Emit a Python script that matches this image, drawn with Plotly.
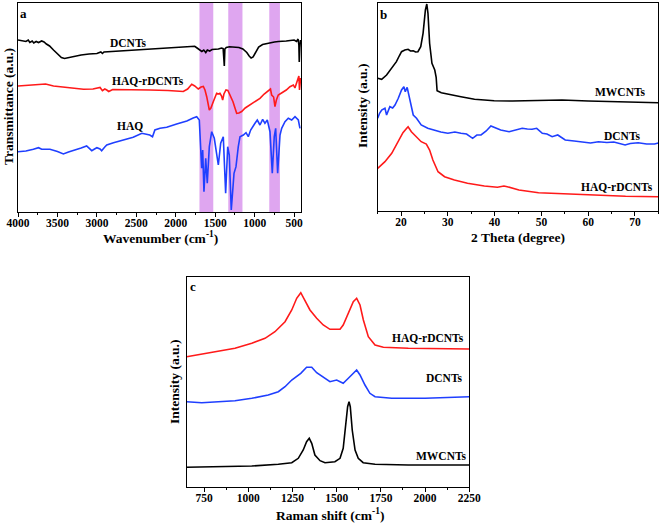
import plotly.graph_objects as go

# ---------------- Panel a : FTIR ----------------
a_dcnt_wn = [4000,3950,3900,3870,3850,3820,3800,3770,3740,3700,3670,3640,3600,3550,3500,3450,3410,3350,3300,3200,3100,3000,2950,2930,2910,2800,2700,2600,2500,2400,2300,2200,2100,2000,1900,1800,1760,1730,1700,1670,1645,1620,1600,1570,1540,1500,1460,1420,1400,1390,1385,1378,1360,1320,1250,1200,1150,1100,1070,1045,1020,1000,975,950,900,850,800,750,700,650,600,550,500,470,450,440,435,428,420]
a_dcnt_t = [172,171.5,170.5,172,169.5,171,169,170.5,169.5,171,170,168,166,162,158,154.5,153.5,154.5,155.5,157,158,158.5,160,158.5,160,160.5,161,161.5,162,162.5,163,163.5,164,164.3,164.7,165.3,165.7,164,162.5,160.5,162,159.5,162,161,162.5,162.5,163,164,163.5,152,146,163,164.5,165.3,165,164.5,163,159.5,156,154,155,158,162,165,167.5,168.5,169.5,170,170.5,170.5,171,171.5,172,170.5,173,167,150,164,172]

a_rd_wn = [4000,3900,3800,3700,3650,3550,3450,3380,3300,3170,3050,3000,2960,2930,2900,2875,2850,2800,2700,2500,2330,2100,1950,1905,1850,1798,1760,1715,1680,1651,1630,1608,1575,1555,1525,1500,1482,1460,1440,1420,1406,1390,1364,1340,1313,1275,1250,1228,1200,1165,1120,1059,1000,933,880,848,820,800,785,760,743,725,701,670,637,600,553,510,490,468,450,440,432,425,418]
a_rd_t = [126,126.5,127,127.7,128,126,125,124.5,123.5,122.7,123,123.7,124.5,121.3,123,122,120.5,122.5,122.5,122,122,121.5,121,120.5,123,127.7,126,123,125,125.5,122,115.3,102,104,110.3,116,118.7,118,118.7,116,112,118,122,121.5,117,110.3,104,98.7,99,100.5,104,107,110.5,113.7,118,120.3,122,123,117,115,105.3,112,117,118.5,120.3,122,125.3,127,124,128.7,133,136,122,132,134]

a_haq_wn = [4000,3900,3805,3740,3700,3650,3595,3500,3425,3360,3300,3200,3130,3065,3030,3000,2960,2940,2900,2875,2790,2705,2620,2540,2430,2380,2330,2295,2265,2200,2115,1989,1860,1780,1735,1702,1684,1672,1659,1643,1621,1601,1575,1545,1512,1490,1461,1431,1398,1368,1342,1322,1297,1262,1237,1208,1186,1144,1110,1081,1051,996,967,933,899,870,840,806,777,752,734,709,679,658,616,574,531,489,447,426]
a_haq_t = [60.3,61,62.7,64.3,62.7,63,62.7,60.5,58,60,61.3,64,66,61.3,63,64.3,63,61.3,65,67,69.3,71.3,73,74.7,78.7,77.5,77,75.3,82,83.7,84.7,88,91,94,95.3,92,68.7,43.7,62,20.3,53.7,28.7,65.3,80.3,73.7,62,47,68.7,75.3,18.7,65.3,57,2,38.7,45.3,65.3,75.3,77,79.3,75.3,82,88.7,92,87,92.7,88.7,92,80.3,38.7,75.3,83.7,38.7,77,83.7,90.3,93.7,92,95.3,92,83.7]

a_bands = [[1525, 1700], [1155, 1335], [680, 815]]
a_ticks = [4000, 3500, 3000, 2500, 2000, 1500, 1000, 500]

# ---------------- Panel b : XRD ----------------
b_mw_2t = [15,15.85,16.9,17.7,18.4,19.0,19.6,20.1,20.8,21.5,22.0,22.6,23.1,23.6,24.2,24.7,25.2,25.5,25.75,26.1,26.6,27.2,27.5,27.7,28.6,30.7,32.8,35.7,39.9,43.8,50,54.4,60,65,70,75]
b_mw_i = [132.7,131.7,136,141,145,149.3,155,159.3,161,161.7,160,160.3,159,159.3,164.3,177.7,201,207,197.7,167.7,147.7,141,133.7,120.3,118.3,116,114.3,111.7,110.3,110,111,111,110,109.3,108.7,108.3]

b_dc_2t = [15,15.4,15.85,16.55,16.9,17.3,17.6,18.2,18.7,19.4,20.1,20.6,20.9,21.3,21.9,22.6,23.3,24.3,25.7,27.2,28.5,30.0,31.5,32.8,34.0,35.3,36.2,37.1,38.2,39.2,40.2,41.3,43.1,44.5,45.9,47.0,48.0,49.0,50.2,51.2,52.3,53.5,55.1,57,58.7,60.5,62.2,64,65.5,67.9,69,70.7,72.5,74.2,75]
b_dc_i = [92.7,97.7,101,102.7,96,102,104.3,103,106,112.7,121,124.3,119.3,123.7,111,96,92.7,86,82.7,80.3,79,77.7,79,77.7,77,72.7,76,76,80,85,83,81,79.3,81,82.7,82,81.7,82.7,77.7,77,74.3,76,71,70,69.3,68,69.3,68.5,69,66,67.5,68.3,67,67,68]

b_rd_2t = [15,16.55,18.0,19.4,20.4,21.2,21.5,22.2,23.3,24.3,25.4,26.1,26.8,27.9,29.3,31.4,34.2,37.8,40.6,42.0,42.7,43.8,45.2,49.4,55.1,62.2,68,75]
b_rd_i = [42.7,49.3,57.7,69.3,78.3,82.7,84.3,79.3,74.3,69.3,67,61,51,39.3,34.3,31,27.7,25,23.7,25,24.3,22.7,21,18.3,17,15.3,14.7,14.3]

b_ticks = [20, 30, 40, 50, 60, 70]

# ---------------- Panel c : Raman ----------------
c_rd_x = [652,737,831,925,1020,1095,1151,1208,1246,1274,1297,1317,1349,1387,1424,1462,1500,1519,1537,1566,1594,1613,1632,1651,1679,1717,1764,1905,2100,2250]
c_rd_i = [130.3,133,135.3,138.7,143.7,148.7,155.3,165.3,177,188.7,194.3,187,177,168.7,162,157.7,157.5,157.7,162,173.7,185.3,188.7,182,167,150.3,142,139.7,138.7,138.5,138]

c_dc_x = [652,737,831,925,1020,1113,1170,1208,1246,1297,1330,1359,1387,1424,1462,1500,1537,1566,1594,1613,1632,1660,1688,1717,1811,2000,2250]
c_dc_i = [85.3,84.3,85.3,86.3,88.7,92,95.3,100.3,107,113.7,119.7,119.7,114.3,109.7,105.3,107,103.7,108.7,113.7,117,112,102,93.7,90.3,88.7,88.7,90.3]

c_mw_x = [652,831,1020,1170,1246,1283,1311,1330,1345,1359,1377,1406,1434,1490,1519,1537,1551,1562,1570,1577,1588,1604,1622,1650,1717,1905,2250]
c_mw_i = [19.7,20.3,21,22.7,24.3,28.7,37,45.3,48.7,43.7,32,26.3,24.3,25.3,28.7,38.7,60.3,80.3,85.3,80.3,57,37,28.7,24.3,22.7,22,22]

c_ticks = [750, 1000, 1250, 1500, 1750, 2000, 2250]

BLACK = "#000000"
RED = "#FF1A1A"
BLUE = "#1F3FFF"
FONT = "Liberation Serif"
W, H = 661, 526

fig = go.Figure()

def add_line(x, y, color, ax):
    fig.add_trace(go.Scatter(x=x, y=y, mode="lines", line=dict(color=color, width=1.6),
                             xaxis="x" + ax, yaxis="y" + ax, showlegend=False, hoverinfo="skip"))

add_line(a_dcnt_wn, a_dcnt_t, BLACK, "")
add_line(a_rd_wn, a_rd_t, RED, "")
add_line(a_haq_wn, a_haq_t, BLUE, "")
add_line(b_mw_2t, b_mw_i, BLACK, "2")
add_line(b_dc_2t, b_dc_i, BLUE, "2")
add_line(b_rd_2t, b_rd_i, RED, "2")
add_line(c_rd_x, c_rd_i, RED, "3")
add_line(c_dc_x, c_dc_i, BLUE, "3")
add_line(c_mw_x, c_mw_i, BLACK, "3")

for lo, hi in a_bands:
    fig.add_shape(type="rect", xref="x", yref="y domain", x0=lo, x1=hi, y0=0, y1=1,
                  fillcolor="#DFA6F0", line=dict(width=0), layer="below")

def px(x):
    return x / W

def py(y):
    return 1 - y / H

tickfont = dict(family=FONT, size=11.5, color="black", weight="bold")

def xax(domain, rng, ticks, anchor, mdt, mt0):
    return dict(domain=domain, range=rng, tickvals=ticks, anchor=anchor, automargin=False,
                showline=True, linecolor="black", linewidth=1.3, mirror=True,
                ticks="outside", ticklen=4, tickwidth=1.2, tickcolor="black",
                ticklabelstandoff=-4,
                minor=dict(dtick=mdt, tick0=mt0, ticks="outside", ticklen=2, tickwidth=1, tickcolor="black"),
                showgrid=False, zeroline=False, tickfont=tickfont)

def yax(domain, rng, anchor):
    return dict(domain=domain, range=rng, anchor=anchor, showline=True, linecolor="black",
                linewidth=1.3, mirror=True, showticklabels=False, ticks="", automargin=False,
                showgrid=False, zeroline=False)

fig.update_layout(
    template="none",
    width=W, height=H, margin=dict(l=0, r=0, t=0, b=0, pad=0),
    paper_bgcolor="white", plot_bgcolor="white",
    xaxis=xax([px(18), px(301)], [4000, 413], a_ticks, "y", 250, 0),
    yaxis=yax([py(212), py(3)], [0, 209], "x"),
    xaxis2=xax([px(377.7), px(658.3)], [15, 75], b_ticks, "y2", 5, 0),
    yaxis2=yax([py(211), py(2.7)], [0, 208.3], "x2"),
    xaxis3=xax([px(186.7), px(469.3)], [652, 2250], c_ticks, "y3", 125, 0),
    yaxis3=yax([py(487), py(277)], [0, 210], "x3"),
)

def ann(text, x, y, size=12, angle=0, xanchor="center"):
    fig.add_annotation(text=text, x=px(x), y=py(y), xref="paper", yref="paper",
                       showarrow=False, textangle=angle, xanchor=xanchor, yanchor="middle",
                       font=dict(family=FONT, size=size, color="black", weight="bold"))

# panel letters
ann("a", 23, 13, 13)
ann("b", 383, 15, 13)
ann("c", 193, 286, 13)
# series labels
ann("DCNTs", 128, 43, 11.5)
ann("HAQ-rDCNTs", 148, 81, 11.5)
ann("HAQ", 130, 126, 11.5)
ann("MWCNTs", 620, 92, 11.5)
ann("DCNTs", 622, 136, 11.5)
ann("HAQ-rDCNTs", 617, 187, 11.5)
ann("HAQ-rDCNTs", 428, 338, 11.5)
ann("DCNTs", 444, 378, 11.5)
ann("MWCNTs", 441, 456, 11.5)
# axis titles
ann("Wavenumber (cm<sup>-1</sup>)", 160, 237, 13.5)
ann("Transmittance (a.u.)", 8, 107, 13.5, -90)
ann("2 Theta (degree)", 518, 237, 13.5)
ann("Intensity (a.u.)", 362, 106, 13.5, -90)
ann("Raman shift (cm<sup>-1</sup>)", 330, 514, 13.5)
ann("Intensity (a.u.)", 174, 382, 13.5, -90)

fig.write_html("out.html", config={"displayModeBar": False},
               post_script="document.body.style.margin='0px';")
